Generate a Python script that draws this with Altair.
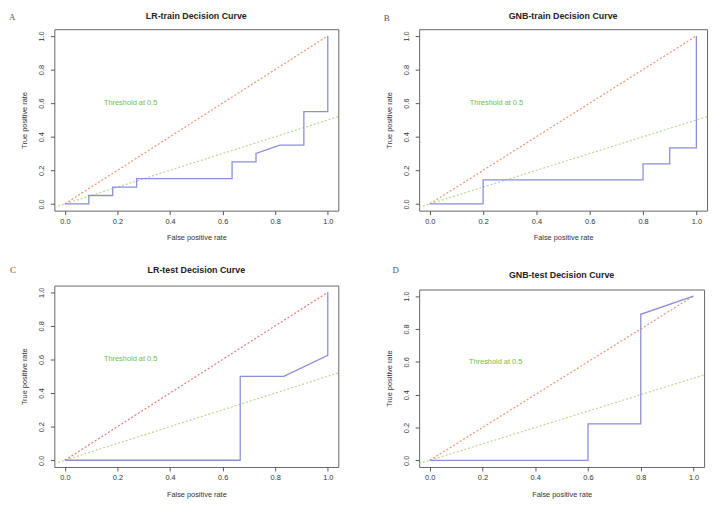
import altair as alt
import pandas as pd

# ---- data ----
lr_train_fpr = [0, 0.091, 0.091, 0.182, 0.182, 0.273, 0.273, 0.636, 0.636, 0.727, 0.727, 0.818, 0.909, 0.909, 1.0, 1.0]
lr_train_tpr = [0, 0, 0.05, 0.05, 0.10, 0.10, 0.15, 0.15, 0.25, 0.25, 0.30, 0.35, 0.35, 0.55, 0.55, 1.0]

gnb_train_fpr = [0, 0.2, 0.2, 0.8, 0.8, 0.9, 0.9, 1.0, 1.0]
gnb_train_tpr = [0, 0, 0.143, 0.143, 0.238, 0.238, 0.333, 0.333, 1.0]

lr_test_fpr = [0, 0.667, 0.667, 0.833, 1.0, 1.0]
lr_test_tpr = [0, 0, 0.5, 0.5, 0.625, 1.0]

gnb_test_fpr = [0, 0.6, 0.6, 0.8, 0.8, 1.0]
gnb_test_tpr = [0, 0, 0.222, 0.222, 0.889, 1.0]

diag_x = [0, 1]
diag_y = [0, 1]
thr_x = [-0.04, 1.04]
thr_y = [-0.02, 0.52]
ticks = [0, 0.2, 0.4, 0.6, 0.8, 1.0]
label_text = "Threshold at 0.5"
label_x = 0.25
label_y = 0.6

FONT = "Liberation Sans"
DOMAIN = [-0.04, 1.04]


def panel(title, letter, fpr, tpr, w, h, ldx, ldy, toff, red):
    xs = alt.Scale(domain=DOMAIN, nice=False, zero=False)
    ys = alt.Scale(domain=DOMAIN, nice=False, zero=False)
    xax = alt.Axis(values=ticks, format=".1f", title="False positive rate", grid=False,
                   domain=False, tickSize=4, tickColor="#555", labelFontSize=7.5,
                   labelColor="#333", labelPadding=3, titleFontSize=7.5,
                   titleFontWeight="normal", titleColor="#333", titlePadding=9,
                   labelFont=FONT, titleFont=FONT)
    yax = alt.Axis(values=ticks, format=".1f", title="True positive rate", grid=False,
                   domain=False, tickSize=4, tickColor="#555", labelFontSize=7.5,
                   labelColor="#333", labelPadding=5, labelAngle=270,
                   labelAlign="center", labelBaseline="bottom", titleFontSize=7.5,
                   titleFontWeight="normal", titleColor="#333", titlePadding=9,
                   labelFont=FONT, titleFont=FONT)

    roc = pd.DataFrame({"fpr": fpr, "tpr": tpr, "i": list(range(len(fpr)))})
    diag = pd.DataFrame({"fpr": diag_x, "tpr": diag_y, "i": [0, 1]})
    thr = pd.DataFrame({"fpr": thr_x, "tpr": thr_y, "i": [0, 1]})
    lab = pd.DataFrame({"fpr": [label_x], "tpr": [label_y], "t": [label_text]})
    let = pd.DataFrame({"t": [letter]})

    base_x = alt.X("fpr:Q", scale=xs, axis=xax)
    base_y = alt.Y("tpr:Q", scale=ys, axis=yax)

    l_thr = alt.Chart(thr).mark_line(color="#b5d98c", strokeWidth=1.2, strokeDash=[2, 2]).encode(
        x=base_x, y=base_y, order="i:Q")
    l_diag = alt.Chart(diag).mark_line(color=red, strokeWidth=1.2, strokeDash=[2, 2]).encode(
        x=base_x, y=base_y, order="i:Q")
    l_roc = alt.Chart(roc).mark_line(color="#8a8fd8", strokeWidth=1.3).encode(
        x=base_x, y=base_y, order="i:Q")
    t_lab = alt.Chart(lab).mark_text(color="#6cbf47", fontSize=7.5, font=FONT).encode(
        x=base_x, y=base_y, text="t:N")
    t_let = alt.Chart(let).mark_text(color="#555", fontSize=9, font="Liberation Serif",
                                     align="left", baseline="middle").encode(
        x=alt.value(ldx), y=alt.value(ldy), text="t:N")

    return alt.layer(l_thr, l_diag, l_roc, t_lab, t_let).properties(
        width=w, height=h,
        title=alt.TitleParams(title, fontSize=9, fontWeight="bold", font=FONT,
                              color="#222", offset=toff, anchor="middle", frame="group"))


A = panel("LR-train Decision Curve", "A", lr_train_fpr, lr_train_tpr, 288, 184, -46, -12, -7.5, "#f3926f")
B = panel("GNB-train Decision Curve", "B", gnb_train_fpr, gnb_train_tpr, 292, 184, -36, -11, -6.5, "#f3926f")
C = panel("LR-test Decision Curve", "C", lr_test_fpr, lr_test_tpr, 288, 184, -45, -16, -9, "#ef7575")
D = panel("GNB-test Decision Curve", "D", gnb_test_fpr, gnb_test_tpr, 289, 180, -27, -20, -14, "#f3926f")

col1 = alt.vconcat(A, C, spacing=76, bounds="flush")
col2 = alt.vconcat(B, D, spacing=80, bounds="flush")
chart = alt.hconcat(col1, col2, spacing=42).properties(
    padding=0, background="white"
).configure_view(stroke="#666", strokeWidth=1)

chart.save("out.html", embed_options={"renderer": "svg", "actions": False})
